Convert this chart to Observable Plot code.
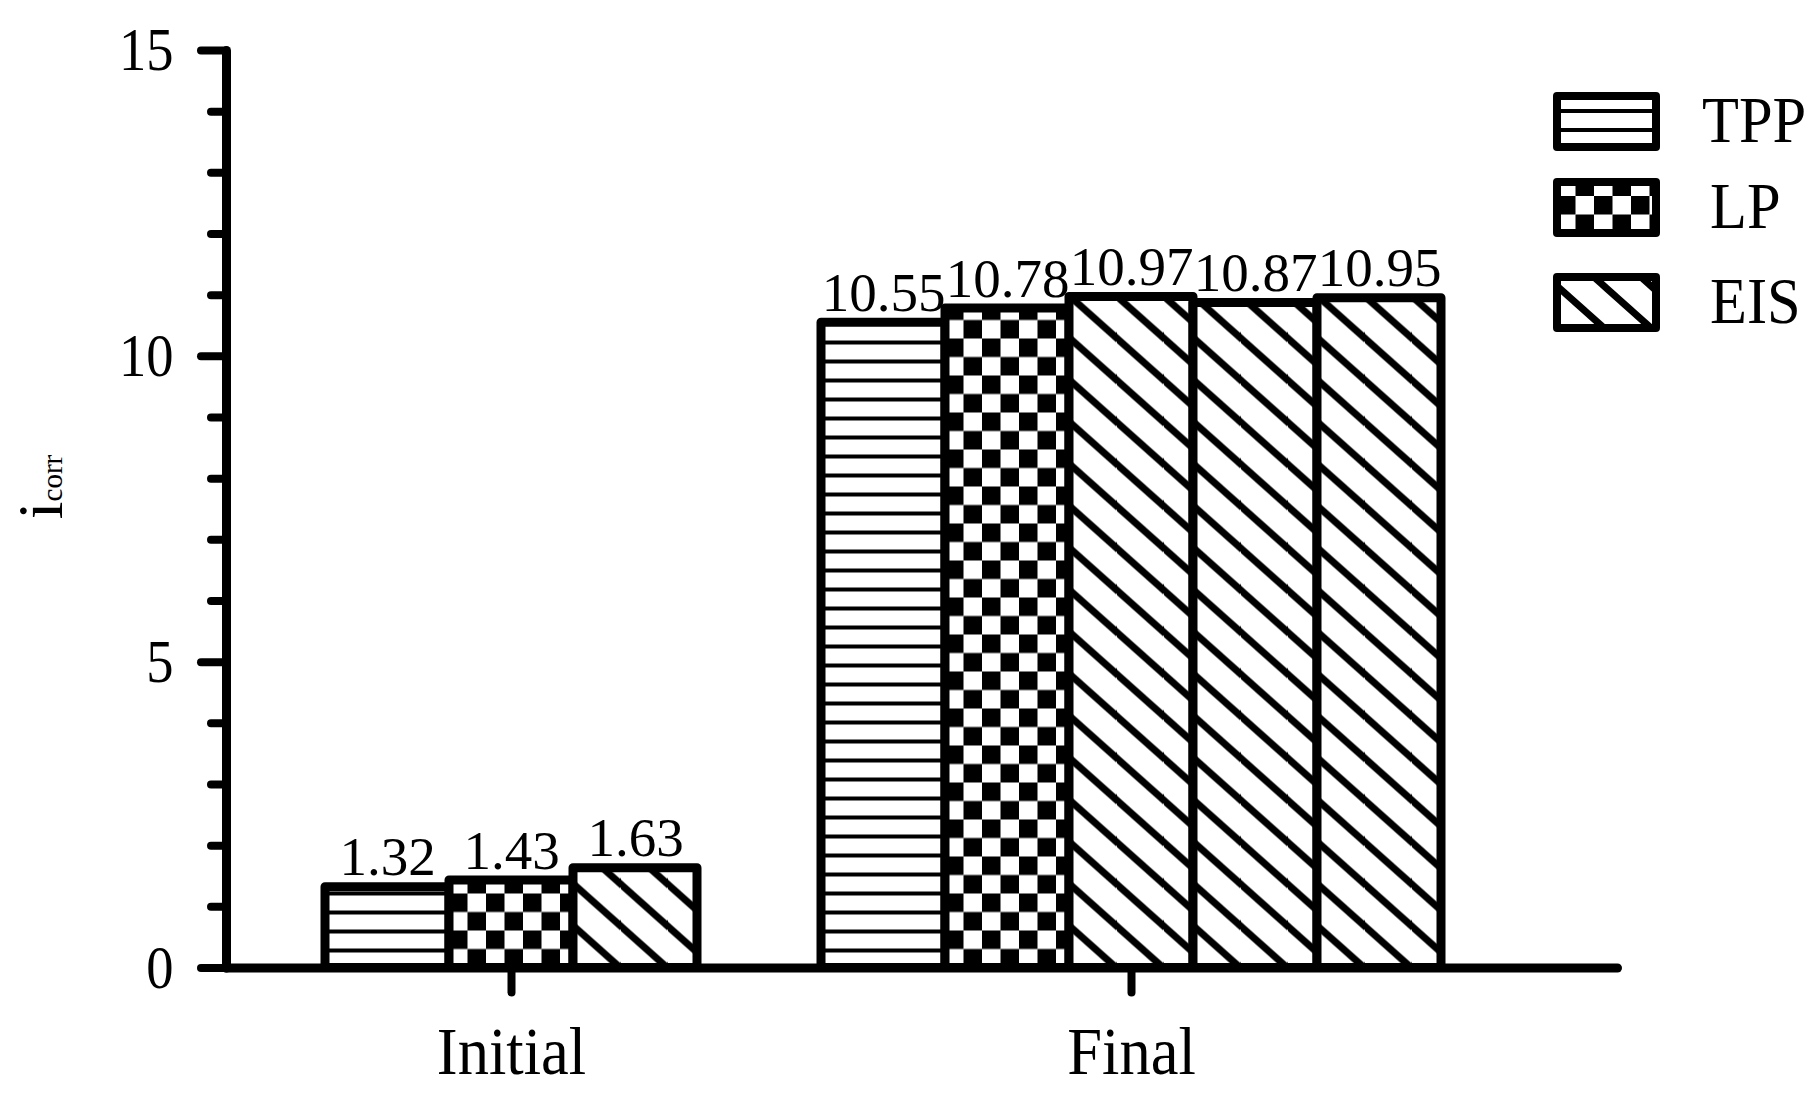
<!DOCTYPE html>
<html><head><meta charset="utf-8">
<script src="https://cdn.jsdelivr.net/npm/d3@7"></script>
<script src="https://cdn.jsdelivr.net/npm/@observablehq/plot@0.6"></script>
<style>
html,body{margin:0;padding:0;background:#fff;}
#wrap{position:relative;width:1820px;height:1105px;overflow:hidden;}
#legend{position:absolute;left:0;top:0;pointer-events:none;}
</style></head><body><div id="wrap"></div>
<script>
// ---------- data ----------
const methods = ["TPP", "LP", "EIS"];
const slots = ["Initial-TPP", "Initial-LP", "Initial-EIS", "gap", "Final-TPP", "Final-LP", "Final-EIS-1", "Final-EIS-2", "Final-EIS-3"];
const barSlots = ["Initial-TPP", "Initial-LP", "Initial-EIS", "Final-TPP", "Final-LP", "Final-EIS-1", "Final-EIS-2", "Final-EIS-3"];
const barMethods = ["TPP", "LP", "EIS", "TPP", "LP", "EIS", "EIS", "EIS"];
const barValues = [1.32, 1.43, 1.63, 10.55, 10.78, 10.97, 10.87, 10.95];
const groupLabels = ["Initial", "Final"];
const groupTickSlots = ["Initial-LP", "Final-EIS-1"];
const yMajorTicks = [0, 5, 10, 15];
const yMinorTicks = [1, 2, 3, 4, 6, 7, 8, 9, 11, 12, 13, 14];
const yLabelMain = "i", yLabelSub = "corr";

// ---------- build ----------
const bars = barSlots.map((slot, i) => ({slot, method: barMethods[i], value: barValues[i], id: "bar" + i}));
const FONT = "'Liberation Serif','Times New Roman',Times,serif";
const W = 1820, H = 1105;

const plot = Plot.plot({
  width: W, height: H,
  marginLeft: 226, marginRight: 202.5, marginTop: 50, marginBottom: 137.5,
  style: {fontFamily: FONT, background: "white", color: "black", overflow: "visible"},
  x: {type: "band", domain: slots, padding: 0, insetLeft: 95.5, insetRight: 173},
  y: {domain: [0, 15]},
  color: {type: "identity"},
  marks: [
    Plot.barY(bars, {x: "slot", y: "value", fill: d => `url(#pat-${d.id})`, stroke: "black", strokeWidth: 9, strokeLinejoin: "round"}),
    Plot.text(bars, {x: "slot", y: "value", text: d => d.value.toFixed(2), lineAnchor: "bottom", dy: -12, fontSize: 55, fill: "black", ariaLabel: "value label"}),
    Plot.axisY({ticks: yMinorTicks, tickSize: 15, tickFormat: () => "", strokeWidth: 8, strokeLinecap: "round", label: null}),
    Plot.axisY({ticks: yMajorTicks, tickSize: 25, tickPadding: 28, strokeWidth: 8, strokeLinecap: "round", fontSize: 62, label: null, tickFormat: d => String(d)}),
    Plot.axisX({ticks: groupTickSlots, tickSize: 25, tickPadding: 33, strokeWidth: 8, strokeLinecap: "round", fontSize: 68, label: null, tickFormat: d => groupLabels[groupTickSlots.indexOf(d)]}),
    Plot.frame({anchor: "left", strokeWidth: 9, strokeLinecap: "round"}),
    Plot.ruleY([0], {strokeWidth: 9, strokeLinecap: "round"})
  ]
});

const wrap = document.getElementById("wrap");
wrap.appendChild(plot);

function addPattern(defs, id, method, ox, oy) {
  if (method === "TPP") {
    const p = defs.append("pattern").attr("id", id).attr("patternUnits", "userSpaceOnUse")
      .attr("x", ox).attr("y", oy).attr("width", 40).attr("height", 19);
    p.append("rect").attr("width", 40).attr("height", 19).attr("fill", "white");
    p.append("rect").attr("y", 0).attr("width", 40).attr("height", 4).attr("fill", "black");
  } else if (method === "LP") {
    const p = defs.append("pattern").attr("id", id).attr("patternUnits", "userSpaceOnUse")
      .attr("x", ox).attr("y", oy).attr("width", 37).attr("height", 37);
    p.append("rect").attr("width", 37).attr("height", 37).attr("fill", "white");
    p.append("rect").attr("x", 0).attr("y", 0).attr("width", 18.5).attr("height", 18.5).attr("fill", "black");
    p.append("rect").attr("x", 18.5).attr("y", 18.5).attr("width", 18.5).attr("height", 18.5).attr("fill", "black");
  } else {
    const w = 47, h = 42;
    const p = defs.append("pattern").attr("id", id).attr("patternUnits", "userSpaceOnUse")
      .attr("x", ox).attr("y", oy).attr("width", w).attr("height", h);
    p.append("rect").attr("width", w).attr("height", h).attr("fill", "white");
    for (const k of [-1, 0, 1]) {
      p.append("line").attr("x1", -w).attr("y1", -h + k * h).attr("x2", 2 * w).attr("y2", 2 * h + k * h)
        .attr("stroke", "black").attr("stroke-width", 7);
    }
  }
}

// condense serif text horizontally about its anchor point
function condense(nodes, sx) {
  nodes.forEach(t => {
    const x = parseFloat(t.getAttribute("x")) || 0;
    const y = parseFloat(t.getAttribute("y")) || 0;
    const prev = t.getAttribute("transform") || "";
    t.setAttribute("transform", `${prev} translate(${x},${y}) scale(${sx},1) translate(${-x},${-y})`);
  });
}

const xs = plot.scale("x"), ys = plot.scale("y");
const svg = d3.select(plot);
const defs = svg.insert("defs", ":first-child");
bars.forEach(b => addPattern(defs, "pat-" + b.id, b.method, xs.apply(b.slot), ys.apply(0)));
condense(plot.querySelectorAll('g[aria-label="y-axis tick label"] text'), 0.88);
condense(plot.querySelectorAll('g[aria-label="x-axis tick label"] text'), 0.92);

// y axis title: i with subscript "corr"
const yl = svg.append("text")
  .attr("transform", "translate(62,487) rotate(-90)")
  .attr("text-anchor", "middle").attr("font-family", FONT).attr("fill", "black");
yl.append("tspan").attr("font-size", 64).text(yLabelMain);
yl.append("tspan").attr("font-size", 29).text(yLabelSub);

// ---------- legend ----------
const legendRowTops = [96, 182, 277];
const legendTextX = [1702, 1710, 1710];
const leg = d3.select(wrap).append("svg").attr("id", "legend").attr("width", W).attr("height", H)
  .attr("font-family", FONT);
const ldefs = leg.append("defs");
methods.forEach((m, i) => {
  const x = 1557, y = legendRowTops[i], w = 99, h = 51;
  addPattern(ldefs, "leg-" + m, m, x, y + h);
  leg.append("rect").attr("x", x).attr("y", y).attr("width", w).attr("height", h)
    .attr("fill", `url(#leg-${m})`).attr("stroke", "black").attr("stroke-width", 8).attr("stroke-linejoin", "round");
  leg.append("text").attr("x", legendTextX[i]).attr("y", y + 46).attr("font-size", 65).attr("fill", "black").text(m);
});
condense(leg.node().querySelectorAll("text"), 0.93);
</script></body></html>
